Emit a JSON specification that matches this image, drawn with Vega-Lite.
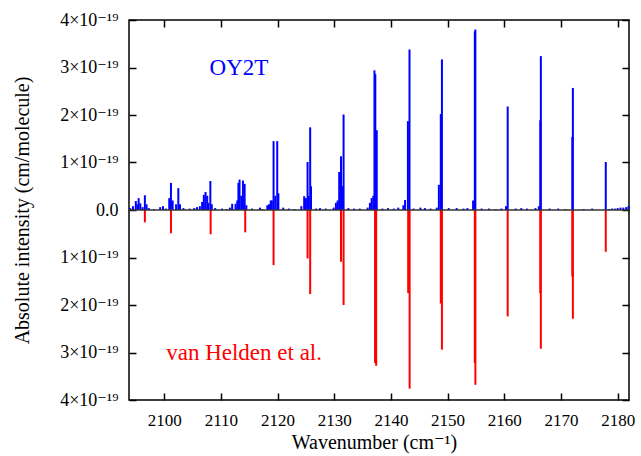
{
  "$schema": "https://vega.github.io/schema/vega-lite/v6.json",
  "width": 500,
  "height": 380,
  "autosize": {"type": "none"},
  "padding": {"left": 129, "top": 20, "right": 12, "bottom": 56},
  "background": "white",
  "config": {
    "font": "Liberation Serif, DejaVu Serif, serif",
    "view": {"stroke": "black", "strokeWidth": 1.5},
    "axis": {
      "domain": false,
      "ticks": false,
      "labelFont": "Liberation Serif, DejaVu Serif, serif",
      "labelFontSize": 17,
      "labelColor": "black",
      "titleFont": "Liberation Serif, DejaVu Serif, serif",
      "titleFontSize": 20,
      "titleFontWeight": "normal",
      "titleColor": "black"
    }
  },
  "datasets": {
    "lines": [
      {"wn": 2094.0, "intensity": 0.04e-19, "source": "OY2T"},
      {"wn": 2094.5, "intensity": 0.08e-19, "source": "OY2T"},
      {"wn": 2095.0, "intensity": 0.19e-19, "source": "OY2T"},
      {"wn": 2095.3, "intensity": 0.12e-19, "source": "OY2T"},
      {"wn": 2095.5, "intensity": 0.25e-19, "source": "OY2T"},
      {"wn": 2095.8, "intensity": 0.14e-19, "source": "OY2T"},
      {"wn": 2096.2, "intensity": 0.06e-19, "source": "OY2T"},
      {"wn": 2096.6, "intensity": 0.31e-19, "source": "OY2T"},
      {"wn": 2096.9, "intensity": 0.12e-19, "source": "OY2T"},
      {"wn": 2097.3, "intensity": 0.04e-19, "source": "OY2T"},
      {"wn": 2098.2, "intensity": 0.02e-19, "source": "OY2T"},
      {"wn": 2099.3, "intensity": 0.06e-19, "source": "OY2T"},
      {"wn": 2099.8, "intensity": 0.08e-19, "source": "OY2T"},
      {"wn": 2100.3, "intensity": 0.03e-19, "source": "OY2T"},
      {"wn": 2100.9, "intensity": 0.25e-19, "source": "OY2T"},
      {"wn": 2101.2, "intensity": 0.57e-19, "source": "OY2T"},
      {"wn": 2101.5, "intensity": 0.20e-19, "source": "OY2T"},
      {"wn": 2102.1, "intensity": 0.12e-19, "source": "OY2T"},
      {"wn": 2102.5, "intensity": 0.46e-19, "source": "OY2T"},
      {"wn": 2102.8, "intensity": 0.12e-19, "source": "OY2T"},
      {"wn": 2103.4, "intensity": 0.04e-19, "source": "OY2T"},
      {"wn": 2104.5, "intensity": 0.03e-19, "source": "OY2T"},
      {"wn": 2105.3, "intensity": 0.04e-19, "source": "OY2T"},
      {"wn": 2105.8, "intensity": 0.06e-19, "source": "OY2T"},
      {"wn": 2106.3, "intensity": 0.08e-19, "source": "OY2T"},
      {"wn": 2106.7, "intensity": 0.17e-19, "source": "OY2T"},
      {"wn": 2107.0, "intensity": 0.32e-19, "source": "OY2T"},
      {"wn": 2107.3, "intensity": 0.38e-19, "source": "OY2T"},
      {"wn": 2107.6, "intensity": 0.30e-19, "source": "OY2T"},
      {"wn": 2107.8, "intensity": 0.15e-19, "source": "OY2T"},
      {"wn": 2108.15, "intensity": 0.61e-19, "source": "OY2T"},
      {"wn": 2108.4, "intensity": 0.12e-19, "source": "OY2T"},
      {"wn": 2109.0, "intensity": 0.04e-19, "source": "OY2T"},
      {"wn": 2110.2, "intensity": 0.03e-19, "source": "OY2T"},
      {"wn": 2111.0, "intensity": 0.02e-19, "source": "OY2T"},
      {"wn": 2111.6, "intensity": 0.05e-19, "source": "OY2T"},
      {"wn": 2112.0, "intensity": 0.13e-19, "source": "OY2T"},
      {"wn": 2112.6, "intensity": 0.13e-19, "source": "OY2T"},
      {"wn": 2112.9, "intensity": 0.20e-19, "source": "OY2T"},
      {"wn": 2113.1, "intensity": 0.57e-19, "source": "OY2T"},
      {"wn": 2113.3, "intensity": 0.64e-19, "source": "OY2T"},
      {"wn": 2113.6, "intensity": 0.30e-19, "source": "OY2T"},
      {"wn": 2113.9, "intensity": 0.62e-19, "source": "OY2T"},
      {"wn": 2114.2, "intensity": 0.55e-19, "source": "OY2T"},
      {"wn": 2114.5, "intensity": 0.10e-19, "source": "OY2T"},
      {"wn": 2115.5, "intensity": 0.03e-19, "source": "OY2T"},
      {"wn": 2116.9, "intensity": 0.05e-19, "source": "OY2T"},
      {"wn": 2117.3, "intensity": 0.02e-19, "source": "OY2T"},
      {"wn": 2118.2, "intensity": 0.10e-19, "source": "OY2T"},
      {"wn": 2118.5, "intensity": 0.12e-19, "source": "OY2T"},
      {"wn": 2118.8, "intensity": 0.20e-19, "source": "OY2T"},
      {"wn": 2119.0, "intensity": 0.20e-19, "source": "OY2T"},
      {"wn": 2119.3, "intensity": 1.45e-19, "source": "OY2T"},
      {"wn": 2119.6, "intensity": 0.30e-19, "source": "OY2T"},
      {"wn": 2119.95, "intensity": 1.45e-19, "source": "OY2T"},
      {"wn": 2120.15, "intensity": 0.35e-19, "source": "OY2T"},
      {"wn": 2121.0, "intensity": 0.05e-19, "source": "OY2T"},
      {"wn": 2122.0, "intensity": 0.03e-19, "source": "OY2T"},
      {"wn": 2123.0, "intensity": 0.02e-19, "source": "OY2T"},
      {"wn": 2124.2, "intensity": 0.08e-19, "source": "OY2T"},
      {"wn": 2124.7, "intensity": 0.29e-19, "source": "OY2T"},
      {"wn": 2125.0, "intensity": 0.25e-19, "source": "OY2T"},
      {"wn": 2125.3, "intensity": 1.01e-19, "source": "OY2T"},
      {"wn": 2125.5, "intensity": 0.30e-19, "source": "OY2T"},
      {"wn": 2125.76, "intensity": 1.74e-19, "source": "OY2T"},
      {"wn": 2125.9, "intensity": 0.50e-19, "source": "OY2T"},
      {"wn": 2126.8, "intensity": 0.03e-19, "source": "OY2T"},
      {"wn": 2127.5, "intensity": 0.04e-19, "source": "OY2T"},
      {"wn": 2128.5, "intensity": 0.03e-19, "source": "OY2T"},
      {"wn": 2129.9, "intensity": 0.05e-19, "source": "OY2T"},
      {"wn": 2130.3, "intensity": 0.15e-19, "source": "OY2T"},
      {"wn": 2130.6, "intensity": 0.20e-19, "source": "OY2T"},
      {"wn": 2130.88, "intensity": 0.80e-19, "source": "OY2T"},
      {"wn": 2131.2, "intensity": 1.13e-19, "source": "OY2T"},
      {"wn": 2131.4, "intensity": 0.50e-19, "source": "OY2T"},
      {"wn": 2131.65, "intensity": 2.01e-19, "source": "OY2T"},
      {"wn": 2132.5, "intensity": 0.04e-19, "source": "OY2T"},
      {"wn": 2133.5, "intensity": 0.03e-19, "source": "OY2T"},
      {"wn": 2134.5, "intensity": 0.03e-19, "source": "OY2T"},
      {"wn": 2135.9, "intensity": 0.05e-19, "source": "OY2T"},
      {"wn": 2136.3, "intensity": 0.15e-19, "source": "OY2T"},
      {"wn": 2136.6, "intensity": 0.25e-19, "source": "OY2T"},
      {"wn": 2136.9, "intensity": 0.30e-19, "source": "OY2T"},
      {"wn": 2137.1, "intensity": 2.94e-19, "source": "OY2T"},
      {"wn": 2137.25, "intensity": 2.86e-19, "source": "OY2T"},
      {"wn": 2137.5, "intensity": 1.68e-19, "source": "OY2T"},
      {"wn": 2138.5, "intensity": 0.03e-19, "source": "OY2T"},
      {"wn": 2139.5, "intensity": 0.04e-19, "source": "OY2T"},
      {"wn": 2140.5, "intensity": 0.03e-19, "source": "OY2T"},
      {"wn": 2141.3, "intensity": 0.05e-19, "source": "OY2T"},
      {"wn": 2142.2, "intensity": 0.10e-19, "source": "OY2T"},
      {"wn": 2142.5, "intensity": 0.21e-19, "source": "OY2T"},
      {"wn": 2143.0, "intensity": 1.87e-19, "source": "OY2T"},
      {"wn": 2143.28, "intensity": 3.38e-19, "source": "OY2T"},
      {"wn": 2144.0, "intensity": 0.03e-19, "source": "OY2T"},
      {"wn": 2145.2, "intensity": 0.05e-19, "source": "OY2T"},
      {"wn": 2146.0, "intensity": 0.04e-19, "source": "OY2T"},
      {"wn": 2147.0, "intensity": 0.03e-19, "source": "OY2T"},
      {"wn": 2148.1, "intensity": 0.05e-19, "source": "OY2T"},
      {"wn": 2148.46, "intensity": 0.53e-19, "source": "OY2T"},
      {"wn": 2148.8, "intensity": 2.02e-19, "source": "OY2T"},
      {"wn": 2149.0, "intensity": 3.17e-19, "source": "OY2T"},
      {"wn": 2150.2, "intensity": 0.04e-19, "source": "OY2T"},
      {"wn": 2151.6, "intensity": 0.04e-19, "source": "OY2T"},
      {"wn": 2152.8, "intensity": 0.03e-19, "source": "OY2T"},
      {"wn": 2153.5, "intensity": 0.04e-19, "source": "OY2T"},
      {"wn": 2154.5, "intensity": 0.20e-19, "source": "OY2T"},
      {"wn": 2154.8, "intensity": 3.76e-19, "source": "OY2T"},
      {"wn": 2154.9, "intensity": 3.80e-19, "source": "OY2T"},
      {"wn": 2156.0, "intensity": 0.03e-19, "source": "OY2T"},
      {"wn": 2157.3, "intensity": 0.03e-19, "source": "OY2T"},
      {"wn": 2158.5, "intensity": 0.02e-19, "source": "OY2T"},
      {"wn": 2159.5, "intensity": 0.03e-19, "source": "OY2T"},
      {"wn": 2160.3, "intensity": 0.08e-19, "source": "OY2T"},
      {"wn": 2160.6, "intensity": 2.18e-19, "source": "OY2T"},
      {"wn": 2162.0, "intensity": 0.03e-19, "source": "OY2T"},
      {"wn": 2163.0, "intensity": 0.04e-19, "source": "OY2T"},
      {"wn": 2164.0, "intensity": 0.03e-19, "source": "OY2T"},
      {"wn": 2165.5, "intensity": 0.04e-19, "source": "OY2T"},
      {"wn": 2166.1, "intensity": 0.08e-19, "source": "OY2T"},
      {"wn": 2166.35, "intensity": 1.89e-19, "source": "OY2T"},
      {"wn": 2166.45, "intensity": 3.24e-19, "source": "OY2T"},
      {"wn": 2168.0, "intensity": 0.03e-19, "source": "OY2T"},
      {"wn": 2169.5, "intensity": 0.03e-19, "source": "OY2T"},
      {"wn": 2170.8, "intensity": 0.02e-19, "source": "OY2T"},
      {"wn": 2172.0, "intensity": 1.54e-19, "source": "OY2T"},
      {"wn": 2172.1, "intensity": 2.57e-19, "source": "OY2T"},
      {"wn": 2174.0, "intensity": 0.02e-19, "source": "OY2T"},
      {"wn": 2175.5, "intensity": 0.03e-19, "source": "OY2T"},
      {"wn": 2177.9, "intensity": 1.01e-19, "source": "OY2T"},
      {"wn": 2178.5, "intensity": 0.02e-19, "source": "OY2T"},
      {"wn": 2179.0, "intensity": 0.03e-19, "source": "OY2T"},
      {"wn": 2179.5, "intensity": 0.03e-19, "source": "OY2T"},
      {"wn": 2180.0, "intensity": 0.04e-19, "source": "OY2T"},
      {"wn": 2180.5, "intensity": 0.05e-19, "source": "OY2T"},
      {"wn": 2181.0, "intensity": 0.05e-19, "source": "OY2T"},
      {"wn": 2181.5, "intensity": 0.06e-19, "source": "OY2T"},
      {"wn": 2181.9, "intensity": 0.08e-19, "source": "OY2T"},
      {"wn": 2096.6, "intensity": -0.26e-19, "source": "van Helden et al."},
      {"wn": 2101.2, "intensity": -0.49e-19, "source": "van Helden et al."},
      {"wn": 2108.2, "intensity": -0.51e-19, "source": "van Helden et al."},
      {"wn": 2114.3, "intensity": -0.47e-19, "source": "van Helden et al."},
      {"wn": 2119.3, "intensity": -1.16e-19, "source": "van Helden et al."},
      {"wn": 2125.3, "intensity": -1.02e-19, "source": "van Helden et al."},
      {"wn": 2125.76, "intensity": -1.77e-19, "source": "van Helden et al."},
      {"wn": 2131.2, "intensity": -1.09e-19, "source": "van Helden et al."},
      {"wn": 2131.65, "intensity": -2.00e-19, "source": "van Helden et al."},
      {"wn": 2137.2, "intensity": -3.22e-19, "source": "van Helden et al."},
      {"wn": 2137.4, "intensity": -3.28e-19, "source": "van Helden et al."},
      {"wn": 2143.05, "intensity": -1.75e-19, "source": "van Helden et al."},
      {"wn": 2143.3, "intensity": -3.76e-19, "source": "van Helden et al."},
      {"wn": 2148.8, "intensity": -1.97e-19, "source": "van Helden et al."},
      {"wn": 2149.0, "intensity": -2.94e-19, "source": "van Helden et al."},
      {"wn": 2154.8, "intensity": -3.22e-19, "source": "van Helden et al."},
      {"wn": 2154.9, "intensity": -3.68e-19, "source": "van Helden et al."},
      {"wn": 2160.6, "intensity": -2.24e-19, "source": "van Helden et al."},
      {"wn": 2166.35, "intensity": -1.75e-19, "source": "van Helden et al."},
      {"wn": 2166.45, "intensity": -2.92e-19, "source": "van Helden et al."},
      {"wn": 2172.0, "intensity": -1.40e-19, "source": "van Helden et al."},
      {"wn": 2172.1, "intensity": -2.29e-19, "source": "van Helden et al."},
      {"wn": 2177.9, "intensity": -0.88e-19, "source": "van Helden et al."}
    ],
    "labels": [
      {"wn": 2113.2, "intensity": 3.0e-19, "source": "OY2T"},
      {"wn": 2114.1, "intensity": -3.0e-19, "source": "van Helden et al."}
    ],
    "baseline": [
      {"from": 2093.8, "to": 2182, "intensity": 0}
    ]
  },
  "layer": [
    {
      "data": {"name": "lines"},
      "mark": {"type": "rule", "strokeWidth": 2},
      "encoding": {
        "x": {
          "field": "wn",
          "type": "quantitative",
          "scale": {"domain": [2093.8, 2182], "nice": false, "zero": false},
          "axis": {
            "orient": "bottom",
            "title": "Wavenumber (cm⁻¹)",
            "values": [2100, 2110, 2120, 2130, 2140, 2150, 2160, 2170, 2180],
            "grid": true,
            "gridColor": "black",
            "gridOpacity": 1,
            "gridWidth": 1.5,
            "gridDash": [7, 366, 7, 1000],
            "labelPadding": 12,
            "titleX": 245,
            "titleY": 42,
            "titleBaseline": "middle",
            "format": "d"
          }
        },
        "y": {
          "field": "intensity",
          "type": "quantitative",
          "scale": {"domain": [-4e-19, 4e-19], "nice": false},
          "axis": {
            "orient": "left",
            "title": "Absolute intensity (cm/molecule)",
            "values": [-4e-19, -3e-19, -2e-19, -1e-19, 0, 1e-19, 2e-19, 3e-19, 4e-19],
            "labelExpr": "datum.value == 0 ? '0.0' : round(abs(datum.value) * 1e19) + '×10⁻¹⁹'",
            "labelFontSize": 18,
            "grid": true,
            "gridColor": "black",
            "gridOpacity": 1,
            "gridWidth": 1.5,
            "gridDash": [7, 486, 7, 1000],
            "labelPadding": 11,
            "titleX": -107,
            "titleY": 190,
            "titleBaseline": "middle"
          }
        },
        "y2": {"datum": 0},
        "color": {
          "field": "source",
          "type": "nominal",
          "scale": {"domain": ["OY2T", "van Helden et al."], "range": ["#0000ff", "#ff0000"]},
          "legend": null
        }
      }
    },
    {
      "data": {"name": "baseline"},
      "mark": {"type": "rule", "color": "#333333", "strokeWidth": 1.5},
      "encoding": {
        "x": {"field": "from", "type": "quantitative", "axis": null},
        "x2": {"field": "to"},
        "y": {"field": "intensity", "type": "quantitative", "axis": null}
      }
    },
    {
      "data": {"name": "labels"},
      "mark": {"type": "text", "fontSize": 23, "font": "Liberation Serif, DejaVu Serif, serif", "align": "center", "baseline": "middle"},
      "encoding": {
        "x": {"field": "wn", "type": "quantitative", "axis": null},
        "y": {"field": "intensity", "type": "quantitative", "axis": null},
        "text": {"field": "source"},
        "color": {"field": "source", "type": "nominal", "legend": null}
      }
    }
  ],
  "resolve": {"axis": {"x": "independent", "y": "independent"}}
}
